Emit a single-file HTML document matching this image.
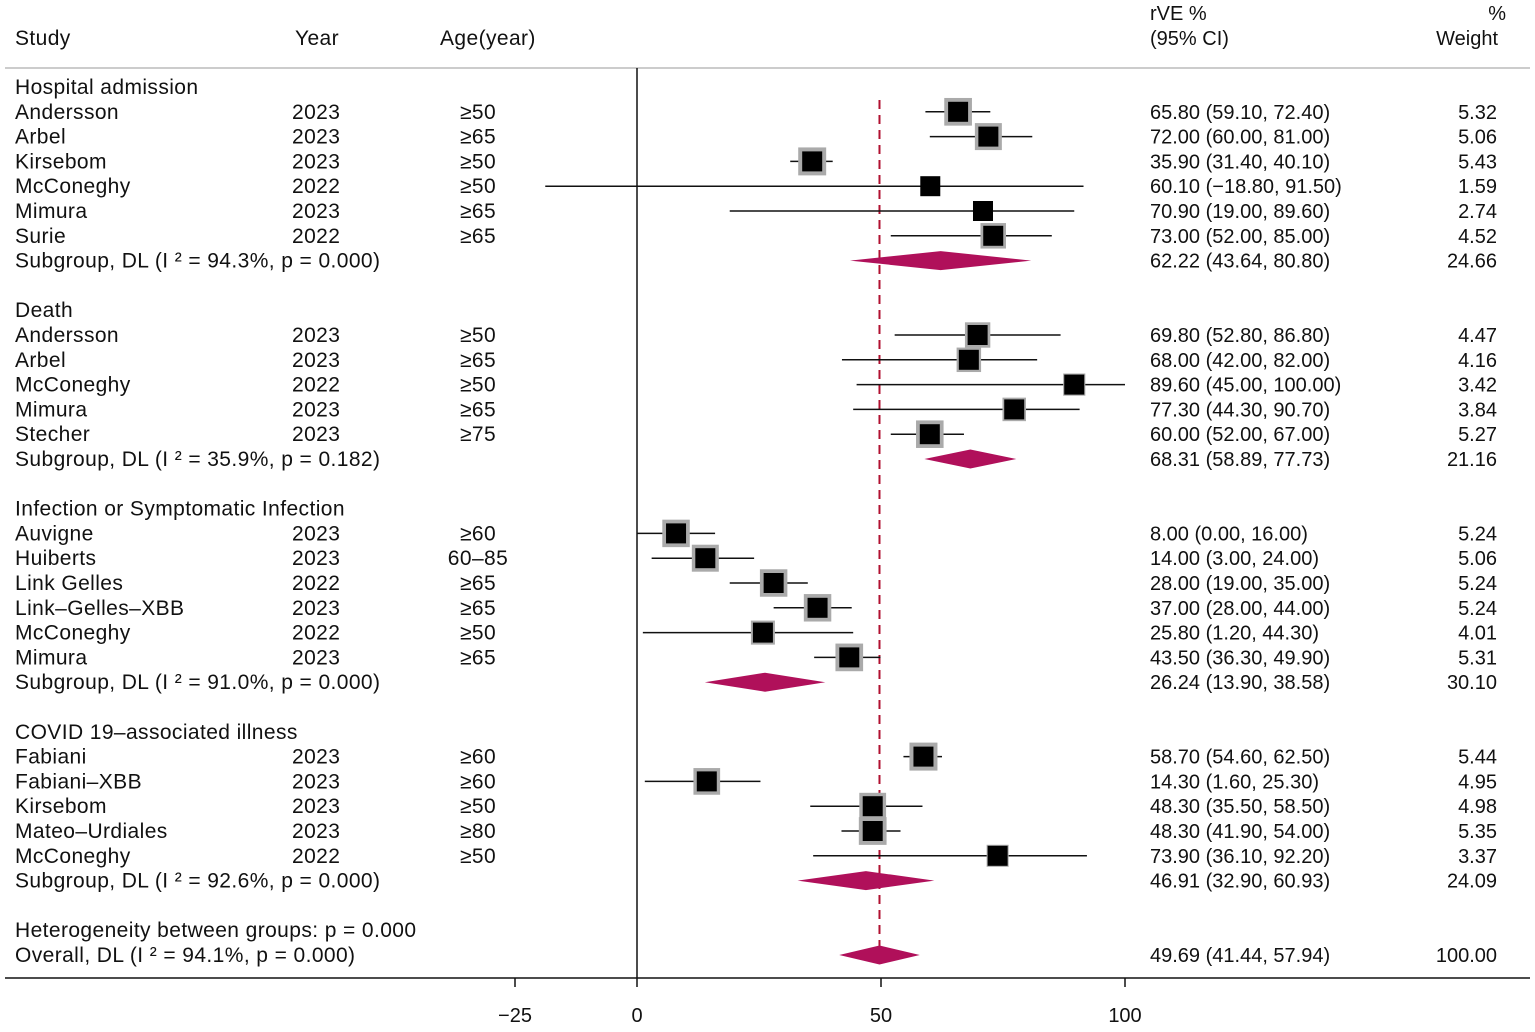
<!DOCTYPE html>
<html><head><meta charset="utf-8">
<style>
html,body{margin:0;padding:0;background:#fff;}
svg text{font-family:"Liberation Sans",sans-serif;font-size:20px;fill:#111;}
svg text.lab{font-size:21px;letter-spacing:0.4px;}
</style></head>
<body>
<svg width="1535" height="1027" viewBox="0 0 1535 1027" xmlns="http://www.w3.org/2000/svg">
<g>
<text x="15" y="45" class="lab">Study</text>
<text x="295" y="45" class="lab">Year</text>
<text x="440" y="45" class="lab">Age(year)</text>
<text x="1150" y="20">rVE %</text>
<text x="1150" y="45">(95% CI)</text>
<text x="1506" y="20" text-anchor="end">%</text>
<text x="1498" y="45" text-anchor="end">Weight</text>
</g>
<line x1="5" y1="68" x2="1530" y2="68" stroke="#bbb" stroke-width="1.5"/>
<line x1="5" y1="978" x2="1530" y2="978" stroke="#111" stroke-width="1.5"/>
<g id="plot"></g>
</svg>
<script>
const rowKinds = ['h','s','s','s','s','s','s','d','b','h','s','s','s','s','s','d','b','h','s','s','s','s','s','s','d','b','h','s','s','s','s','s','d','b','t','o'];
const labels = ['Hospital admission','Andersson','Arbel','Kirsebom','McConeghy','Mimura','Surie','Subgroup, DL (I \u00B2 = 94.3%, p = 0.000)','',
'Death','Andersson','Arbel','McConeghy','Mimura','Stecher','Subgroup, DL (I \u00B2 = 35.9%, p = 0.182)','',
'Infection or Symptomatic Infection','Auvigne','Huiberts','Link Gelles','Link\u2013Gelles\u2013XBB','McConeghy','Mimura','Subgroup, DL (I \u00B2 = 91.0%, p = 0.000)','',
'COVID 19\u2013associated illness','Fabiani','Fabiani\u2013XBB','Kirsebom','Mateo\u2013Urdiales','McConeghy','Subgroup, DL (I \u00B2 = 92.6%, p = 0.000)','',
'Heterogeneity between groups: p = 0.000','Overall, DL (I  \u00B2 = 94.1%, p = 0.000)'];
const years = ['','2023','2023','2023','2022','2023','2022','','','','2023','2023','2022','2023','2023','','','','2023','2023','2022','2023','2022','2023','','','','2023','2023','2023','2023','2022','','','',''];
const ages = ['','\u226550','\u226565','\u226550','\u226550','\u226565','\u226565','','','','\u226550','\u226565','\u226550','\u226565','\u226575','','','','\u226560','60\u201385','\u226565','\u226565','\u226550','\u226565','','','','\u226560','\u226560','\u226550','\u226580','\u226550','','','',''];
const est = [null,65.8,72,35.9,60.1,70.9,73,62.22,null,null,69.8,68,89.6,77.3,60,68.31,null,null,8,14,28,37,25.8,43.5,26.24,null,null,58.7,14.3,48.3,48.3,73.9,46.91,null,null,49.69];
const lo = [null,59.1,60,31.4,-18.8,19,52,43.64,null,null,52.8,42,45,44.3,52,58.89,null,null,0,3,19,28,1.2,36.3,13.9,null,null,54.6,1.6,35.5,41.9,36.1,32.9,null,null,41.44];
const hi = [null,72.4,81,40.1,91.5,89.6,85,80.8,null,null,86.8,82,100,90.7,67,77.73,null,null,16,24,35,44,44.3,49.9,38.58,null,null,62.5,25.3,58.5,54,92.2,60.93,null,null,57.94];
const weights = [null,5.32,5.06,5.43,1.59,2.74,4.52,24.66,null,null,4.47,4.16,3.42,3.84,5.27,21.16,null,null,5.24,5.06,5.24,5.24,4.01,5.31,30.10,null,null,5.44,4.95,4.98,5.35,3.37,24.09,null,null,100.00];
const xTicks = [-25,0,50,100];
const overall = 49.69;

const NS='http://www.w3.org/2000/svg';
const g=document.getElementById('plot');
const X=v=>637+v*4.88;
const Y=i=>87+i*24.8;
function mk(tag,attrs){const e=document.createElementNS(NS,tag);for(const k in attrs)e.setAttribute(k,attrs[k]);g.appendChild(e);return e;}
function fmt(v){return (v<0?'\u2212':'')+Math.abs(v).toFixed(2);}

let z=mk('line',{x1:X(0),y1:68,x2:X(0),y2:978,stroke:'#111','stroke-width':1.5});


let d=mk('line',{x1:X(overall),y1:100,x2:X(overall),y2:965,stroke:'#b01030','stroke-width':2,'stroke-dasharray':'9 6'});



xTicks.forEach(t=>{
  let l=mk('line',{x1:X(t),y1:978,x2:X(t),y2:987,stroke:'#111','stroke-width':1.5});
  
  
  let tx=mk('text',{x:X(t),y:1022,'text-anchor':'middle'});
  tx.textContent=(t<0?'\u2212':'')+Math.abs(t);
  
  
});

rowKinds.forEach((k,i)=>{
  const y=Y(i);
  if(labels[i]){
    let t=mk('text',{x:15,y:y+7,'class':'lab','xml:space':'preserve'});
    t.textContent=labels[i];
    
    
  }
  if(years[i]){
    let t=mk('text',{x:292,y:y+7,'class':'lab'});t.textContent=years[i];
    
    
  }
  if(ages[i]){
    let t=mk('text',{x:478,y:y+7,'text-anchor':'middle','class':'lab'});t.textContent=ages[i];
    
    
  }
  if(est[i]!==null){
    let t=mk('text',{x:1150,y:y+7});t.textContent=fmt(est[i])+' ('+fmt(lo[i])+', '+fmt(hi[i])+')';
    
    
    let w=mk('text',{x:1497,y:y+7,'text-anchor':'end'});w.textContent=weights[i].toFixed(2);
    
    
  }
  if(k==='s'){
    let l=mk('line',{x1:X(lo[i]),y1:y,x2:X(hi[i]),y2:y,stroke:'#111','stroke-width':1.5});
    
    
    const s=12*Math.sqrt(weights[i]);
    let gb=mk('rect',{x:X(est[i])-s/2,y:y-s/2,width:s,height:s,fill:'#aaa'});
    
    
    let b=mk('rect',{x:X(est[i])-10,y:y-10,width:20,height:20,fill:'#000'});
    
    
  }
  if(k==='d'||k==='o'){
    const p=`${X(lo[i])},${y} ${X(est[i])},${y-9.5} ${X(hi[i])},${y} ${X(est[i])},${y+9.5}`;
    let dm=mk('polygon',{points:p,fill:'#b0105a'});
    
    
  }
});
</script>
</body></html>
